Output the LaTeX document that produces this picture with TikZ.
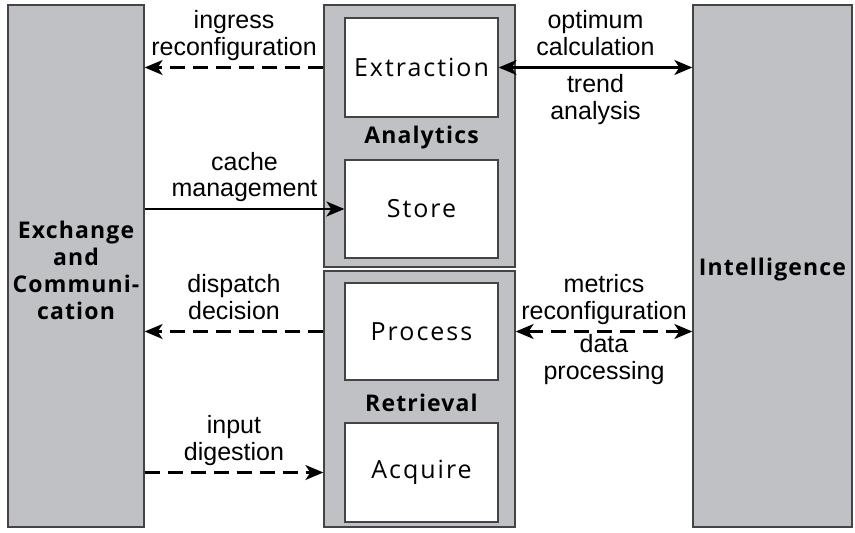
\documentclass[tikz,border=0pt]{standalone}
\usepackage{fontspec}
\setmainfont{Liberation Sans}
\newfontfamily\boxfont{Open Sans}[LetterSpace=8]
\newfontfamily\titlefont{Open Sans}[LetterSpace=5]
\usetikzlibrary{arrows.meta}
\definecolor{panelgray}{RGB}{192,193,197}
\definecolor{edgegray}{RGB}{68,68,70}

\begin{document}
\begin{tikzpicture}[x=1pt,y=-1pt]
  \useasboundingbox (0,0) rectangle (855,533);
  \tikzstyle{BlockStyle}=[draw=edgegray,line width=1.3pt,fill=panelgray,inner sep=0pt]
  \tikzstyle{UnitStyle}=[draw=edgegray,line width=1.3pt,fill=white,minimum width=153pt,
                         font=\boxfont\fontsize{25}{30}\selectfont]
  \tikzstyle{TitleStyle}=[font=\titlefont\bfseries\fontsize{23}{27}\selectfont,align=center]
  \tikzstyle{EdgeStyle}=[line width=2.2pt,>={Stealth[length=18pt,width=15pt,inset=5pt]}]
  \tikzstyle{DashStyle}=[EdgeStyle,dash pattern=on 15pt off 8pt]
  \tikzstyle{LabelStyle}=[font=\fontsize{25}{26.5}\selectfont,align=center,inner sep=2pt,
                          text depth=5pt]

  % outer blocks
  \node[BlockStyle,minimum width=136pt,minimum height=522pt] (exch) at (76,266) {};
  \node[BlockStyle,minimum width=159pt,minimum height=522pt] (intel) at (772.5,266) {};
  \node[BlockStyle,minimum width=191pt,minimum height=262pt] (analytics) at (419.5,136) {};
  \node[BlockStyle,minimum width=191pt,minimum height=256pt] (retrieval) at (419.5,399) {};

  \node[TitleStyle] (exchlbl) at (76,270) {Exchange\\and\\Communi-\\cation};
  \node[TitleStyle] (intellbl) at (772.5,270) {Intelligence};

  % inner units
  \node[UnitStyle,minimum height=99pt] (extraction) at (421.5,67.5) {Extraction};
  \node[UnitStyle,minimum height=98pt] (store) at (421.5,209) {Store};
  \node[UnitStyle,minimum height=97pt] (process) at (421.5,331.5) {Process};
  \node[UnitStyle,minimum height=99pt] (acquire) at (421.5,472.5) {Acquire};

  \node[TitleStyle] (analyticslbl) at (421.5,138) {Analytics};
  \node[TitleStyle] (retrievallbl) at (421.5,403) {Retrieval};

  % flows
  \draw[DashStyle,->] (analytics.west |- extraction.west) -- node[LabelStyle,above=4pt]
    {ingress\\reconfiguration} (exch.east |- extraction.west);
  \draw[EdgeStyle,<->] (extraction.east) -- node[LabelStyle,above=4pt]
    {optimum\\calculation} node[LabelStyle,below=4pt,text depth=] {trend\\analysis}
    (intel.west |- extraction.east);
  \draw[EdgeStyle,->] (exch.east |- store.west) -- node[LabelStyle,above=4pt]
    {cache\\management} (store.west);
  \draw[DashStyle,->] (retrieval.west |- process.west) -- node[LabelStyle,above=4pt]
    {dispatch\\decision} (exch.east |- process.west);
  \draw[DashStyle,<->] (retrieval.east |- process.east) -- node[LabelStyle,above=4pt]
    {metrics\\reconfiguration} node[LabelStyle,below=0pt,text depth=] {data\\processing}
    (intel.west |- process.east);
  \draw[DashStyle,->] (exch.east |- acquire.west) -- node[LabelStyle,above=4pt]
    {input\\digestion} (retrieval.west |- acquire.west);

\end{tikzpicture}
\end{document}
